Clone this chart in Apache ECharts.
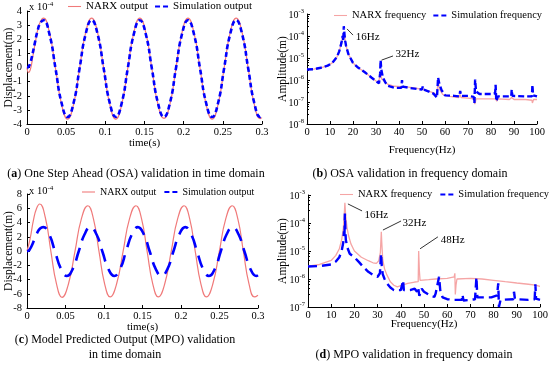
<!DOCTYPE html>
<html><head><meta charset="utf-8">
<script src="https://cdn.jsdelivr.net/npm/echarts@6/dist/echarts.min.js"></script>
<style>html,body{margin:0;padding:0;background:#fff}#c{width:550px;height:379px}</style>
</head><body><div id="c"></div>
<script>
// ---------- data ----------
const narxTimeA = [
[0,0],[0.002,-0.35],[0.0045,-0.1],[0.0075,0.8],[0.011,1.9],[0.0145,2.85],[0.018,3.35],[0.021,3.5],
[0.0287,2.45],[0.0364,-0.07],[0.0441,-2.6],[0.0518,-3.65],[0.0595,-2.6],[0.0671,-0.07],[0.0748,2.45],[0.0825,3.5],
[0.0902,2.45],[0.0979,-0.07],[0.1056,-2.6],[0.1133,-3.65],[0.121,-2.6],[0.1286,-0.07],[0.1363,2.45],[0.144,3.5],
[0.1517,2.45],[0.1594,-0.07],[0.1671,-2.6],[0.1748,-3.6],[0.1825,-2.6],[0.1901,-0.07],[0.1978,2.45],[0.2055,3.5],
[0.2132,2.45],[0.2209,-0.07],[0.2286,-2.6],[0.2363,-3.65],[0.244,-2.6],[0.2516,-0.07],[0.2593,2.45],[0.267,3.5],
[0.2747,2.45],[0.2824,-0.07],[0.2901,-2.6],[0.2978,-3.62],[0.3,-3.55]
];
const simTime = [
[0,0],[0.002,0.05],[0.004,0.3],[0.006,0.7],[0.0095,1.6],[0.0135,2.6],[0.017,3.15],[0.021,3.35],
[0.0287,2.35],[0.0364,-0.07],[0.0441,-2.5],[0.0518,-3.5],[0.0595,-2.5],[0.0671,-0.07],[0.0748,2.35],[0.0825,3.35],
[0.0902,2.35],[0.0979,-0.07],[0.1056,-2.5],[0.1133,-3.5],[0.121,-2.5],[0.1286,-0.07],[0.1363,2.35],[0.144,3.35],
[0.1517,2.35],[0.1594,-0.07],[0.1671,-2.5],[0.1748,-3.5],[0.1825,-2.5],[0.1901,-0.07],[0.1978,2.35],[0.2055,3.35],
[0.2132,2.35],[0.2209,-0.07],[0.2286,-2.5],[0.2363,-3.5],[0.244,-2.5],[0.2516,-0.07],[0.2593,2.35],[0.267,3.35],
[0.2747,2.35],[0.2824,-0.07],[0.2901,-2.5],[0.2978,-3.5],[0.3,-3.4]
];
const narxTimeC = [
[0,0],[0.004,1.7],[0.0085,4.4],[0.0125,6.0],[0.0165,6.6],
[0.0238,4.7],[0.031,-0.05],[0.0383,-4.6],[0.0455,-6.5],
[0.0539,-4.6],[0.0623,-0.05],[0.0706,4.5],[0.079,6.35],
[0.0863,4.5],[0.0935,-0.05],[0.1008,-4.6],[0.108,-6.45],
[0.1164,-4.6],[0.1248,-0.05],[0.1331,4.5],[0.1415,6.35],
[0.1488,4.5],[0.156,-0.05],[0.1633,-4.6],[0.1705,-6.45],
[0.1789,-4.6],[0.1873,-0.05],[0.1956,4.5],[0.204,6.35],
[0.2113,4.5],[0.2185,-0.05],[0.2258,-4.6],[0.233,-6.45],
[0.2414,-4.6],[0.2498,-0.05],[0.2581,4.5],[0.2665,6.35],
[0.2738,4.5],[0.281,-0.05],[0.2883,-4.6],[0.2955,-6.45],[0.3,-6.2]
];
const narxFreqB = [
[0,3e-6],[3,3.1e-6],[6,3.6e-6],[9,4.5e-6],[11,6e-6],[13,1.1e-5],[14,2e-5],[15,5e-5],[15.6,1e-4],[16,1.5e-4],
[16.4,9e-5],[17,3.5e-5],[18,1.5e-5],[20,6e-6],[22,3.8e-6],[25,2.3e-6],[28,1.3e-6],[30,9e-7],[31,8e-7],[31.5,1.2e-6],
[32,2e-6],[32.5,1.1e-6],[33,9e-7],[35,6.5e-7],[38,5.2e-7],[41,5e-7],[41.5,6e-7],[42,5e-7],[45,4.6e-7],[50,3.8e-7],
[50.5,4.3e-7],[51,3.7e-7],[55,2.6e-7],[56.5,2e-7],[57,1.1e-6],[57.5,4e-7],[59,2.2e-7],[62,1.8e-7],[66,1.6e-7],
[66.5,2.2e-7],[67,1.6e-7],[70,1.5e-7],[72.5,1.4e-7],[73,8e-8],[73.5,1.4e-7],[78,1.4e-7],[82,1.4e-7],[82.5,1.1e-7],
[83,1.4e-7],[88,1.3e-7],[89,1.6e-7],[90,1.3e-7],[95,1.3e-7],[97.8,1.2e-7],[98,9e-8],[98.5,1.3e-7],[100,1.3e-7]
];
const simFreqB = [
[0,3e-6],[3,3.1e-6],[6,3.6e-6],[9,4.5e-6],[11,6e-6],[13,1.1e-5],[14,2e-5],[15,5e-5],[15.5,1e-4],[15.8,6e-5],
[16,2.8e-4],[16.3,1.2e-4],[16.6,6e-5],[17,3.5e-5],[18,1.5e-5],[20,6e-6],[22,3.8e-6],[25,2.3e-6],[28,1.3e-6],[30,9e-7],
[31.3,7e-7],[31.8,2e-6],[32,8e-6],[32.3,3e-6],[33,1.3e-6],[34,8e-7],[35,5.5e-7],[38,4.4e-7],[41,4.4e-7],[41.3,1e-6],
[41.6,5e-7],[45,4.3e-7],[48,3.9e-7],[50,3.7e-7],[50.3,5e-7],[50.6,3.7e-7],[53,3e-7],[55,2.4e-7],[56.5,1.6e-7],
[57,1.3e-6],[57.5,7e-7],[58.5,3.5e-7],[60,2e-7],[64,1.9e-7],[66.3,1.8e-7],[66.6,3.2e-7],[67,1.9e-7],[70,1.9e-7],
[72.5,1.7e-7],[72.8,9e-8],[73.1,1.05e-6],[73.5,3e-7],[75,2.3e-7],[80,2.3e-7],[81.8,2.5e-7],[82,6e-7],[82.3,1.1e-7],
[83,1.8e-7],[88.8,1.8e-7],[89,3.6e-7],[89.3,1.9e-7],[95,1.8e-7],[97.8,1.8e-7],[98,6e-7],[98.3,2e-7],[100,1.8e-7]
];
const narxFreqD = [
[0,2.9e-6],[5,3.3e-6],[10,4.6e-6],[12,7e-6],[13.5,1.2e-5],[14.5,2.5e-5],[15.2,6e-5],[15.6,1.8e-4],[15.9,5.3e-4],
[16.2,2e-4],[16.8,7e-5],[17.5,3.5e-5],[18.5,1.8e-5],[20,1e-5],[23,6e-6],[26,4.5e-6],[28,3.8e-6],[29.5,3.6e-6],
[30.5,4.5e-6],[31.2,9e-6],[31.6,4.9e-5],[31.8,2e-5],[32.2,5e-6],[33,2.3e-6],[34,1.4e-6],[35.5,8e-7],[37,6e-7],
[38.5,5.2e-7],[40,5.8e-7],[43,7e-7],[46,7.8e-7],[47.5,8e-7],[47.7,1e-5],[48,2e-6],[48.3,9e-7],[52,9.5e-7],[55,1e-6],
[60,1.05e-6],[63,1.2e-6],[63.3,1.6e-6],[63.5,2.8e-7],[63.8,6e-7],[64.2,1e-6],[70,1.05e-6],[75,1e-6],[80,9e-7],
[85,8e-7],[90,7.2e-7],[95,6.5e-7],[98,6e-7],[98.3,5.5e-7],[100,5.5e-7]
];
const simFreqD = [
[0,2.8e-6],[5,2.9e-6],[10,3.3e-6],[12,4.2e-6],[13.5,6e-6],[14.5,1e-5],[15.2,2e-5],[15.5,5e-5],[15.7,3e-5],
[15.9,2.2e-4],[16.1,6e-5],[16.3,2.5e-5],[17,1.3e-5],[18,8e-6],[20,6e-6],[22,4e-6],[24,2.6e-6],[26,1.8e-6],
[28,1.4e-6],[30,1.2e-6],[31,1.6e-6],[31.5,8e-6],[31.8,3e-6],[32.2,1.5e-6],[33,1e-6],[34,7e-7],[35.5,5e-7],[37,4e-7],
[40,4e-7],[40.8,4e-7],[41,9e-7],[41.3,4e-7],[44,4e-7],[46,4.5e-7],[47,3.5e-7],[47.5,4.8e-7],[48,2.5e-7],[49,4.5e-7],
[50,3.5e-7],[53,2.5e-7],[54.5,2.3e-7],[55,3e-7],[56.5,1.2e-6],[57,4e-7],[58,2.2e-7],[60,1.9e-7],[63,1.8e-7],
[65,1.8e-7],[66.3,1.8e-7],[66.6,2.8e-7],[67,1.7e-7],[70,1.8e-7],[72,1.9e-7],[72.6,1.15e-6],[73,2.2e-7],[75,2.2e-7],
[79,2.2e-7],[81.5,2.6e-7],[82,7e-7],[82.3,1e-7],[83,1.8e-7],[88.5,1.9e-7],[88.8,3.5e-7],[89.2,1.9e-7],[95,1.8e-7],
[97.7,1.9e-7],[98,6.5e-7],[98.3,2e-7],[100,1.8e-7]
];
// annotations: label position, arrow start, arrow tip (data coords)
const annB = [
  {text:'16Hz', label:[21, 9e-5], from:[20, 1.1e-4], to:[17.4, 2.1e-4]},
  {text:'32Hz', label:[38.3, 1.5e-5], from:[37.4, 1.24e-5], to:[32.4, 8e-6]}
];
const annD = [
  {text:'16Hz', label:[24.1, 1.9e-4], from:[23.3, 2.7e-4], to:[17.2, 4.8e-4]},
  {text:'32Hz', label:[40.5, 1e-4], from:[40.1, 1.18e-4], to:[32.3, 5.6e-5]},
  {text:'48Hz', label:[57, 2.5e-5], from:[56, 3.2e-5], to:[48.3, 1.2e-5]}
];
const captions = {
  a: ['({b|a}) One Step Ahead (OSA) validation in time domain'],
  b: ['({b|b}) OSA validation in frequency domain'],
  c: ['({b|c}) Model Predicted Output (MPO) validation', 'in time domain'],
  d: ['({b|d}) MPO validation in frequency domain']
};

// ---------- chart ----------
const F = '"Liberation Serif", "Times New Roman", serif';
const RED_T = '#f07a7a', RED_F = '#f5a5a5', BLUE = '#0000ff';
const ICON_LINE = 'path://M0,0h12v1h-12z';
const ICON_DASH = 'path://M0,0h5v2h-5z M8,0h5v2h-5z';

function axBase() {
  return {
    nameMoveOverlap:false,
    axisLine:{show:true, onZero:false, lineStyle:{color:'#000', width:1}},
    axisTick:{show:true, inside:true, length:3, lineStyle:{color:'#000'}},
    splitLine:{show:false},
    axisLabel:{fontFamily:F, fontSize:10.5, color:'#000'},
    nameTextStyle:{fontFamily:F, fontSize:11, color:'#000'}
  };
}
function timeX(g, gap) {
  return Object.assign(axBase(), {type:'value', gridIndex:g, min:0, max:0.3, interval:0.05,
    name:'time(s)', nameLocation:'middle', nameGap:gap,
    axisLabel:{fontFamily:F, fontSize:10.5, color:'#000', margin:3, formatter:v=>String(+v.toFixed(2))}});
}
function freqX(g, gap) {
  return Object.assign(axBase(), {type:'value', gridIndex:g, min:0, max:100, interval:10,
    name:'Frequency(Hz)', nameLocation:'middle', nameGap:gap,
    axisLabel:{fontFamily:F, fontSize:10.5, color:'#000', margin:3}});
}
function dispY(g, lim, step, gap) {
  return Object.assign(axBase(), {type:'value', gridIndex:g, min:-lim, max:lim, interval:step,
    name:'Displacement(m)', nameLocation:'middle', nameGap:gap, nameRotate:90,
    nameTextStyle:{fontFamily:F, fontSize:11.5, color:'#000'},
    axisLabel:{fontFamily:F, fontSize:10.5, color:'#000', margin:5}});
}
function logY(g, min, gap) {
  return Object.assign(axBase(), {type:'log', logBase:10, gridIndex:g, min:min, max:1e-3,
    name:'Amplitude(m)', nameLocation:'middle', nameGap:gap, nameRotate:90,
    nameTextStyle:{fontFamily:F, fontSize:11.5, color:'#000'},
    minorTick:{show:true, splitNumber:5, length:2, lineStyle:{color:'#000'}},
    axisLabel:{margin:3, formatter:v=>'{b|10}{s|' + Math.round(Math.log10(v)) + '}',
      rich:{b:{fontFamily:F, fontSize:10, color:'#000', lineHeight:12, verticalAlign:'bottom'},
            s:{fontFamily:F, fontSize:6.5, color:'#000', lineHeight:7, verticalAlign:'top'}}}});
}
function annot(ann) {
  return {
    markLine:{silent:true, symbol:['none','arrow'], symbolSize:[0,6], animation:false,
      lineStyle:{color:'#333', width:1, type:'solid'}, label:{show:false},
      data: ann.map(a=>[{coord:a.from},{coord:a.to}])},
    markPoint:{silent:true, symbol:'circle', symbolSize:1, itemStyle:{color:'rgba(0,0,0,0)'}, animation:false,
      label:{show:true, position:'right', distance:0, formatter:'{b}', fontFamily:F, fontSize:11, color:'#000'},
      data: ann.map(a=>({name:a.text, coord:a.label}))}
  };
}
function leg(left, top, names, fs, gap) {
  return {left:left, top:top, itemWidth:13, itemHeight:8, itemGap:gap, padding:0, symbolKeepAspect:true,
    textStyle:{fontFamily:F, fontSize:fs, color:'#000'},
    data:[{name:names[0], icon:ICON_LINE}, {name:names[1], icon:ICON_DASH}]};
}
function cap(x, y, lines) {
  return lines.map((t,i)=>({type:'text', x:x, y:y + i*15, silent:true,
    style:{text:t, fontFamily:F, fontSize:12, fill:'#000', align:'center', verticalAlign:'middle',
      rich:{b:{fontFamily:F, fontSize:12, fontWeight:'bold', fill:'#000'}}}}));
}
function expo(x, y) {
  return {type:'text', x:x, y:y, silent:true,
    style:{text:'{a|x 10}{s|-4}', fill:'#000',
      rich:{a:{fontFamily:F, fontSize:10.5, fill:'#000', lineHeight:12, verticalAlign:'bottom'},
            s:{fontFamily:F, fontSize:7, fill:'#000', lineHeight:7, verticalAlign:'top'}}}};
}

const chart = echarts.init(document.getElementById('c'), null, {renderer:'canvas'});
chart.setOption({
  animation:false,
  backgroundColor:'#fff',
  grid:[
    {left:27, top:11, width:235, height:113, outerBoundsMode:'none'},
    {left:307, top:14, width:230, height:110, outerBoundsMode:'none'},
    {left:27, top:194, width:231, height:114, outerBoundsMode:'none'},
    {left:308, top:195, width:232, height:112, outerBoundsMode:'none'}
  ],
  xAxis:[timeX(0, 14), freqX(1, 21), timeX(2, 14), freqX(3, 12)],
  yAxis:[dispY(0, 4, 1, 12), logY(1, 1e-8, 18), dispY(2, 8, 2, 12), logY(3, 1e-7, 19)],
  legend:[
    leg(68, 1, ['NARX output','Simulation output'], 11, 7),
    leg(334, 10, ['NARX frequency','Simulation frequency'], 10.5, 7),
    leg(82, 187, ['NARX output','Simulation output'], 10, 8),
    leg(340, 189, ['NARX frequency','Simulation frequency'], 10.5, 8)
  ],
  series:[
    {name:'NARX output', type:'line', xAxisIndex:0, yAxisIndex:0, data:narxTimeA, smooth:true, symbol:'none',
      lineStyle:{color:RED_T, width:1.2}, itemStyle:{color:RED_T}},
    {name:'Simulation output', type:'line', xAxisIndex:0, yAxisIndex:0, data:simTime, smooth:true, symbol:'none',
      lineStyle:{color:BLUE, width:2.6, type:[5,3]}, itemStyle:{color:BLUE}},
    Object.assign({name:'NARX frequency', type:'line', xAxisIndex:1, yAxisIndex:1, data:narxFreqB, symbol:'none',
      lineStyle:{color:RED_F, width:1.3}, itemStyle:{color:RED_F}}, annot(annB)),
    {name:'Simulation frequency', type:'line', xAxisIndex:1, yAxisIndex:1, data:simFreqB, symbol:'none',
      lineStyle:{color:BLUE, width:2.4, type:[6,3]}, itemStyle:{color:BLUE}},
    {name:'NARX output', type:'line', xAxisIndex:2, yAxisIndex:2, data:narxTimeC, smooth:true, symbol:'none',
      lineStyle:{color:RED_T, width:1.2}, itemStyle:{color:RED_T}},
    {name:'Simulation output', type:'line', xAxisIndex:2, yAxisIndex:2, data:simTime, smooth:true, symbol:'none',
      lineStyle:{color:BLUE, width:2.6, type:[13,8]}, itemStyle:{color:BLUE}},
    Object.assign({name:'NARX frequency', type:'line', xAxisIndex:3, yAxisIndex:3, data:narxFreqD, symbol:'none',
      lineStyle:{color:RED_F, width:1.3}, itemStyle:{color:RED_F}}, annot(annD)),
    {name:'Simulation frequency', type:'line', xAxisIndex:3, yAxisIndex:3, data:simFreqD, symbol:'none',
      lineStyle:{color:BLUE, width:2.4, type:[9,5]}, itemStyle:{color:BLUE}}
  ],
  graphic:[
    expo(29, 1), expo(29, 185),
    ...cap(136, 174, captions.a),
    ...cap(410, 174, captions.b),
    ...cap(125, 340, captions.c),
    ...cap(414, 355, captions.d)
  ]
});
</script>
</body></html>
